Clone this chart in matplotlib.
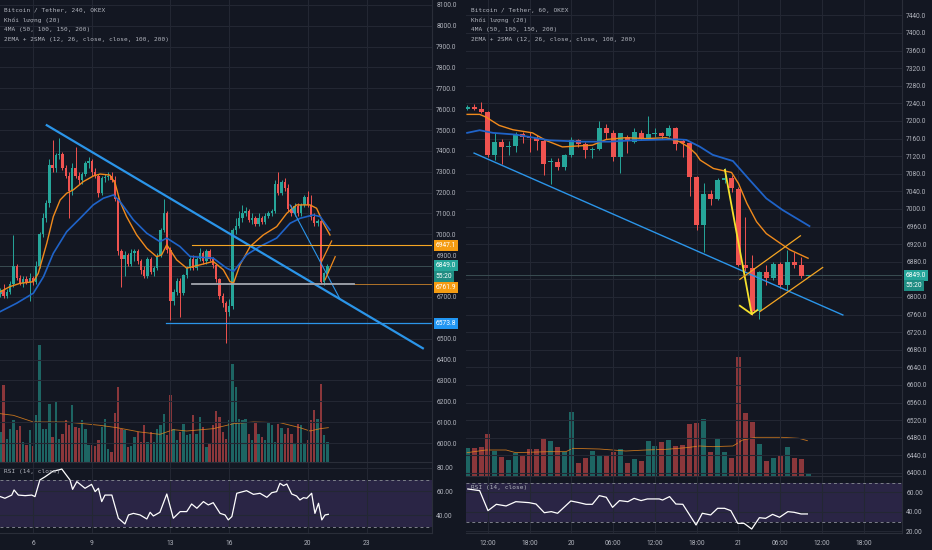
import numpy as np
import matplotlib
matplotlib.use('Agg')
import matplotlib.pyplot as plt
import matplotlib.transforms as mtransforms

plt.rcParams['font.family'] = ['Roboto', 'DejaVu Sans']

BG = '#131722'
GRID = '#232733'
TXT = '#b2b5be'
UP = '#26a69a'
DOWN = '#ef5350'
EMA_FAST = '#f08a1c'
EMA_SLOW = '#1f63c8'
TREND = '#2b95e9'

# ---------------- left chart: Bitcoin / Tether, 240 ----------------
l_open = [6715, 6735, 6705, 6725, 6760, 6850, 6790, 6765, 6785, 6770,
          6790, 6770, 6850, 7000, 7080, 7150, 7330, 7320, 7380, 7385,
          7320, 7280, 7210, 7320, 7280, 7260, 7290, 7340, 7350, 7300,
          7280, 7200, 7270, 7275, 7280, 7260, 7170, 6920, 6880, 6900,
          6860, 6910, 6920, 6870, 6830, 6800, 6880, 6820, 6840, 6895,
          7020, 7100, 6925, 6680, 6725, 6775, 6720, 6805, 6840, 6880,
          6840, 6880, 6910, 6870, 6920, 6880, 6855, 6785, 6705, 6670,
          6630, 6655, 7020, 7040, 7080, 7100, 7110, 7070, 7080, 7050,
          7080, 7060, 7090, 7100, 7110, 7240, 7200, 7250, 7220, 7120,
          7100, 7135, 7100, 7140, 7180, 7140, 7085, 7055, 7065, 6770,
          6815]
l_high = [6745, 6760, 6740, 6775, 6995, 6860, 6805, 6800, 6800, 6815,
          6800, 6870, 7010, 7100, 7165, 7360, 7450, 7390, 7460, 7395,
          7330, 7300, 7340, 7420, 7300, 7300, 7350, 7370, 7360, 7320,
          7290, 7280, 7290, 7300, 7300, 7280, 7180, 6930, 6920, 6910,
          6930, 6930, 6930, 6880, 6850, 6890, 6890, 6850, 6910, 7030,
          7170, 7110, 6940, 6740, 6790, 6790, 6810, 6850, 6890, 6900,
          6890, 6935, 6920, 6930, 6930, 6890, 6860, 6790, 6720, 6680,
          6690, 7030, 7080, 7110, 7140, 7130, 7120, 7100, 7090, 7100,
          7090, 7100, 7110, 7120, 7260, 7300, 7260, 7270, 7240, 7140,
          7150, 7150, 7150, 7190, 7210, 7190, 7100, 7075, 7070, 6820,
          6860]
l_low = [6700, 6695, 6695, 6715, 6750, 6780, 6755, 6750, 6760, 6680,
         6755, 6760, 6840, 6985, 7060, 7130, 7300, 7300, 7360, 7310,
         7270, 7080, 7190, 7270, 7240, 7240, 7280, 7320, 7280, 7270,
         7180, 7190, 7250, 7260, 7250, 7160, 6900, 6750, 6800, 6850,
         6850, 6870, 6860, 6810, 6790, 6790, 6810, 6800, 6830, 6890,
         7010, 6910, 6590, 6660, 6710, 6605, 6710, 6790, 6830, 6830,
         6830, 6870, 6860, 6860, 6870, 6840, 6770, 6690, 6650, 6480,
         6610, 6640, 7000, 7030, 7060, 7090, 7060, 7050, 7040, 7040,
         7050, 7050, 7080, 7090, 7100, 7190, 7190, 7210, 7110, 7090,
         7090, 7090, 7090, 7130, 7130, 7070, 7040, 7040, 6760, 6755,
         6805]
l_close = [6735, 6705, 6725, 6760, 6850, 6790, 6765, 6785, 6770, 6790,
           6770, 6850, 7000, 7080, 7150, 7330, 7320, 7380, 7385, 7320,
           7280, 7210, 7320, 7280, 7260, 7290, 7340, 7350, 7300, 7280,
           7200, 7270, 7275, 7280, 7260, 7170, 6920, 6880, 6900, 6860,
           6910, 6920, 6870, 6830, 6800, 6880, 6820, 6840, 6895, 7020,
           7100, 6925, 6680, 6725, 6775, 6720, 6805, 6840, 6880, 6840,
           6880, 6910, 6870, 6920, 6880, 6855, 6785, 6705, 6670, 6630,
           6655, 7020, 7040, 7080, 7100, 7110, 7070, 7080, 7050, 7080,
           7060, 7090, 7100, 7110, 7240, 7200, 7250, 7220, 7120, 7100,
           7135, 7100, 7140, 7180, 7140, 7085, 7055, 7065, 6770, 6815,
           6849]
l_vol = [90, 230, 70, 100, 125, 95, 107, 60, 50, 95,
         47, 140, 350, 100, 100, 175, 75, 180, 70, 85,
         125, 110, 170, 105, 103, 125, 100, 50, 50, 47,
         65, 105, 130, 40, 30, 147, 225, 100, 95, 45,
         47, 75, 90, 60, 110, 60, 90, 60, 100, 110,
         145, 80, 202, 100, 65, 90, 115, 80, 85, 140,
         85, 135, 105, 45, 55, 110, 153, 135, 90, 70,
         125, 295, 225, 130, 125, 130, 85, 65, 120, 85,
         75, 65, 117, 110, 60, 115, 103, 83, 103, 85,
         55, 115, 110, 55, 65, 125, 155, 130, 235, 80,
         60]

l_ema_fast_x = [0, 3.0, 6.0, 10.1, 11.6, 14.2, 16.2, 18.3, 20.3, 22.3, 25.4, 28.5, 30.5,
                33.5, 35.1, 36.6, 38.6, 41.7, 44.8, 47.8, 49.3, 50.9, 53.9, 57.0, 61.1,
                65.1, 68.2, 70.2, 71.3, 73.3, 76.4, 80.4, 84.5, 87.6, 90.6, 94.7, 96.7,
                98.8, 100.8]
l_ema_fast = [6725, 6750, 6765, 6773, 6813, 6957, 7085, 7165, 7197, 7213, 7253, 7280, 7289,
              7284, 7245, 7157, 7085, 6997, 6933, 6893, 6901, 6950, 6878, 6838, 6854,
              6870, 6830, 6774, 6766, 6854, 6942, 6997, 7037, 7101, 7141, 7141, 7125,
              7053, 6997]
l_ema_slow_x = [0, 5.0, 10.1, 13.2, 16.2, 20.3, 24.4, 28.4, 31.5, 34.6, 36.6, 40.7, 44.8,
                48.8, 50.9, 54.9, 58.0, 65.1, 69.2, 71.3, 75.3, 79.4, 84.5, 88.6, 91.7,
                95.7, 97.8, 100.8]
l_ema_slow = [6630, 6670, 6718, 6797, 6909, 7013, 7077, 7141, 7173, 7189, 7157, 7069, 7005,
              6965, 6982, 6942, 6894, 6886, 6838, 6822, 6902, 6942, 6982, 7053, 7077,
              7093, 7085, 7021]
l_vma_x = [0, 4.0, 10.1, 20.3, 30.5, 35.6, 42.7, 48.8, 52.9, 57.0, 65.1, 71.3, 77.4, 85.5,
           91.6, 94.7, 97.8, 100.3]
l_vma = [145, 140, 120, 120, 110, 103, 90, 83, 97, 93, 100, 115, 120, 118, 103, 93, 100, 103]
l_rsi_x = [0, 1.4, 3.5, 4.2, 5.5, 7.6, 9.6, 10.6, 12.1, 13.7,
           16.2, 17.7, 18.8, 19.8, 21.3, 22.1, 23.4, 25.9, 27.9, 29.0,
           30.0, 31.0, 32.0, 34.1, 36.1, 38.1, 39.2, 40.7, 42.7, 44.8,
           45.8, 46.8, 48.8, 50.9, 52.9, 55.0, 57.0, 58.5, 60.1, 62.1,
           63.6, 65.1, 67.2, 68.7, 69.7, 70.8, 72.3, 75.3, 77.4, 79.4,
           81.5, 83.0, 84.5, 85.5, 86.6, 87.6, 89.1, 90.6, 91.6, 92.7,
           93.7, 95.2, 96.2, 97.3, 98.3, 99.3, 100.3]
l_rsi = [55.7, 54.3, 57, 61.3, 57, 56.5, 57, 55.7, 69.7, 72.4,
         77.2, 78, 78.9, 75.2, 69.7, 61.8, 68.3, 62.7, 66, 59.9,
         62.7, 51.5, 57, 57, 37.5, 32.7, 40.3, 41.6, 40.3, 36.9,
         42.5, 39.4, 42.5, 57.9, 37.5, 43.1, 43.1, 49.5, 45.9, 51.5,
         48.7, 50.6, 41.6, 40.3, 36.1, 38.9, 58.5, 60.7, 57.6, 58.5,
         55.1, 59, 59.9, 66.9, 64.9, 66.3, 57.9, 56.2, 52.9, 54.8,
         54.3, 58.5, 41.6, 50.1, 36.1, 40.3, 40.8]

l_trend_x, l_trend_y = [14.2, 129.2], [7523, 6454]
l_trend2_x, l_trend2_y = [88.6, 103.9], [7141, 6689]
l_chan1_x, l_chan1_y = [98.3, 101.3], [6872, 6968]
l_chan2_x, l_chan2_y = [99.3, 102.4], [6782, 6893]
l_level_hi, l_level_lo, l_level_sup = 6947.1, 6761.9, 6573.8
l_level_hi_from, l_level_lo_span, l_level_sup_from = 58.6, (58.6, 108.2), 50.7
l_last = 6849.0
l_day_pos = [10, 28, 52, 70, 94, 112]
l_day_lab = ['6', '9', '13', '16', '20', '23']
l_hidden_ticks = [6600, 6800]   # covered by the price tags

# ---------------- right chart: Bitcoin / Tether, 60 ----------------
r_open = [7228, 7232, 7228, 7220, 7122, 7153, 7141, 7142, 7170, 7164,
          7162, 7155, 7107, 7107, 7096, 7122, 7157, 7147, 7134, 7136,
          7183, 7173, 7119, 7163, 7153, 7173, 7160, 7170, 7172, 7166,
          7183, 7155, 7150, 7073, 6963, 7035, 7022, 7066, 7070, 7045,
          6873, 6865, 6767, 6857, 6842, 6875, 6827, 6879, 6873, 6848]
r_high = [7236, 7238, 7244, 7222, 7173, 7160, 7155, 7175, 7175, 7175,
          7168, 7158, 7115, 7115, 7126, 7164, 7160, 7153, 7141, 7200,
          7192, 7179, 7172, 7168, 7183, 7179, 7211, 7183, 7176, 7191,
          7187, 7160, 7152, 7075, 7058, 7043, 7070, 7092, 7077, 7050,
          6982, 6895, 6860, 6872, 6880, 6880, 6907, 6903, 6891, 6850]
r_low = [7224, 7226, 7218, 7118, 7111, 7103, 7122, 7130, 7149, 7130,
         7134, 7077, 7056, 7088, 7088, 7119, 7141, 7115, 7115, 7134,
         7160, 7108, 7081, 7128, 7149, 7156, 7160, 7164, 7160, 7164,
         7134, 7119, 7030, 6952, 6903, 7009, 7020, 7060, 7039, 6870,
         6860, 6759, 6749, 6827, 6838, 6820, 6816, 6865, 6842, 6847]
r_close = [7232, 7228, 7220, 7122, 7153, 7141, 7144, 7170, 7164, 7162,
           7155, 7102, 7110, 7096, 7122, 7157, 7147, 7134, 7137, 7183,
           7172, 7119, 7172, 7155, 7175, 7160, 7171, 7172, 7166, 7183,
           7148, 7150, 7072, 6963, 7035, 7022, 7066, 7070, 7047, 6873,
           6865, 6767, 6857, 6842, 6875, 6827, 6879, 6873, 6848, 6849]
r_vol = [83, 83, 86, 125, 75, 56, 48, 68, 63, 80,
         80, 111, 105, 86, 73, 193, 38, 53, 75, 60,
         60, 71, 80, 40, 51, 45, 105, 90, 102, 108,
         90, 94, 155, 160, 170, 71, 111, 71, 53, 358,
         190, 161, 96, 46, 53, 63, 88, 53, 51, 5]

r_ema_fast_x = [0, 1.8, 2.7, 4.6, 6.6, 9.4, 11.3, 13.7, 15.7, 18.0, 20.0, 22.8, 25.7, 28.6,
                30.5, 31.8, 32.9, 33.5, 35.4, 38.0, 39.0, 40.2, 41.6, 43.0, 45.0, 46.4, 49.0]
r_ema_fast = [7215, 7215, 7209, 7190, 7180, 7173, 7156, 7141, 7143, 7145, 7158, 7162, 7160, 7162,
              7153, 7141, 7125, 7111, 7092, 7083, 7058, 7013, 6971, 6944, 6922, 6907, 6888]
r_ema_slow_x = [0, 1.8, 3.7, 7.0, 11.8, 16.6, 20.4, 23.8, 28.6, 30.5, 31.5, 33.4, 35.3, 38.2,
                40.6, 43.0, 45.3, 49.2]
r_ema_slow = [7173, 7179, 7173, 7169, 7156, 7153, 7153, 7156, 7158, 7158, 7157, 7142, 7123, 7109,
              7066, 7024, 6998, 6961]
r_vma_x = [0, 2.7, 5.6, 7.0, 11.8, 14.2, 15.2, 19.0, 22.8, 25.7, 28.6, 31.5, 33.4, 35.3, 38.2,
           39.6, 41.5, 45.3, 47.7, 48.9]
r_vma = [70, 78, 78, 70, 73, 73, 83, 81, 75, 78, 80, 85, 90, 88, 90, 108, 116, 116, 113, 106]
r_rsi_x = [0.1, 1.8, 3.0, 4.2, 5.6, 7.0, 8.9, 9.9, 11.1, 12.1,
           13.0, 14.9, 15.9, 17.1, 18.0, 19.0, 20.0, 20.9, 21.9, 23.1,
           24.0, 25.0, 25.9, 27.6, 28.1, 29.1, 30.0, 31.0, 32.9, 33.8,
           35.0, 36.0, 37.0, 37.9, 38.9, 39.8, 40.9, 42.0, 42.9, 43.9,
           44.9, 46.1, 47.0, 48.0, 48.9]
r_rsi = [63.4, 61.7, 41.2, 47.7, 46, 50.4, 49.4, 48, 39.1, 40.2,
         38.5, 51.1, 49.7, 47.7, 47.7, 56.6, 54.9, 44.6, 51.5, 50.4,
         53.8, 51.5, 53.2, 53.2, 52.1, 55.6, 48, 47.7, 26.5, 38.5,
         36.8, 43.6, 43.6, 41.2, 28.2, 28.2, 22.4, 34, 33.3, 37.4,
         34.4, 40.2, 39.5, 37.8, 37.8]

r_trend_x, r_trend_y = [1.0, 54.0], [7127, 6759]
r_drop_x, r_drop_y = [37.05, 40.9], [7089, 6761]
r_vee_x, r_vee_y = [39.2, 40.9, 41.7], [6780, 6761, 6770]
r_chan_up_x, r_chan_up_y = [39.2, 47.9], [6840, 6939]
r_chan_lo_x, r_chan_lo_y = [42.1, 51.1], [6767, 6867]
r_last = 6849.0
r_hour_pos = [3, 9, 15, 21, 27, 33, 39, 45, 51, 57]
r_hour_lab = ['12:00', '18:00', '20', '06:00', '12:00', '18:00', '21', '06:00', '12:00', '18:00']
r_hidden_ticks = [6840]

legend_lines = ['Khối lượng (20)', '4MA (50, 100, 150, 200)',
                '2EMA + 2SMA (12, 26, close, close, 100, 200)']

W, H = 932, 550
fig = plt.figure(figsize=(9.32, 5.5), dpi=100, facecolor=BG)


def box(x0, y0, x1, y1):
    return [x0 / W, 1 - y1 / H, (x1 - x0) / W, (y1 - y0) / H]


def clean(ax):
    ax.set_facecolor('none')
    for s in ax.spines.values():
        s.set_visible(False)
    ax.tick_params(length=0, colors=TXT, labelsize=4.8)


def candles(ax, o, h, l, c, width, min_body):
    o, h, l, c = map(np.asarray, (o, h, l, c))
    x = np.arange(len(o))
    cols = np.where(c >= o, UP, DOWN)
    ax.vlines(x, l, h, colors=cols, lw=0.7, zorder=3)
    body = np.maximum(np.abs(c - o), min_body)
    ax.bar(x, body, width, bottom=np.minimum(o, c), color=cols, lw=0, zorder=4)
    return cols


def tag(ax, y, text, fc, dy=0):
    tr = mtransforms.blended_transform_factory(ax.transAxes, ax.transData)
    ax.annotate(text, xy=(1, y), xycoords=tr, xytext=(2.6, dy * 0.72), textcoords='offset points',
                ha='left', va='center', fontsize=4.8, color='white', annotation_clip=False,
                bbox=dict(boxstyle='square,pad=0.3', fc=fc, ec='none'), zorder=10)


def panel(x0, x1, vol_top, price_bot, rsi_bot, o, h, l, c, vol, vol_max, ylim, yticks, hidden,
          xlim, xpos, xlab, width, min_body, rsi_lim, rsi_ticks):
    axv = fig.add_axes(box(x0, vol_top, x1, price_bot))
    axp = fig.add_axes(box(x0, 0, x1, price_bot), sharex=axv)
    axr = fig.add_axes(box(x0, price_bot, x1, rsi_bot), sharex=axv)
    for a in (axv, axp, axr):
        clean(a)
    cols = candles(axp, o, h, l, c, width, min_body)
    axv.bar(np.arange(len(vol)), vol, width, color=cols, alpha=0.55, lw=0)
    axv.set_ylim(0, vol_max)
    axv.set_yticks([])
    axv.tick_params(labelbottom=False)
    axp.set_ylim(*ylim)
    axp.set_yticks(yticks)
    axp.yaxis.tick_right()
    axp.yaxis.set_major_formatter(matplotlib.ticker.FuncFormatter(
        lambda v, p: '' if round(v) in hidden else '%.1f' % v))
    axp.tick_params(axis='y', pad=3)
    axp.grid(True, color=GRID, lw=0.8, zorder=0)
    axp.set_xlim(*xlim)
    axp.set_xticks(xpos)
    axp.tick_params(labelbottom=False)
    axr.axhspan(30, 70, color='#7e57c2', alpha=0.22, lw=0)
    for lv in (30, 70):
        axr.axhline(lv, color='#7d808a', lw=0.7, ls=(0, (3, 3)))
    axr.set_ylim(*rsi_lim)
    axr.set_yticks(rsi_ticks)
    axr.yaxis.tick_right()
    axr.yaxis.set_major_formatter(matplotlib.ticker.FormatStrFormatter('%.2f'))
    axr.tick_params(axis='y', pad=3)
    axr.grid(True, color=GRID, lw=0.8)
    axr.set_xticks(xpos)
    axr.set_xticklabels(xlab)
    axr.tick_params(axis='x', pad=5, labelsize=4.8)
    for side in ('top', 'bottom', 'right'):
        axr.spines[side].set_visible(True)
        axr.spines[side].set_color('#2a2e39')
    axp.spines['right'].set_visible(True)
    axp.spines['right'].set_color('#2a2e39')
    return axp, axv, axr


mono = ['DejaVu Sans Mono', 'DejaVu Sans', 'Noto Sans']

# ---------- left ----------
axp, axv, axr = panel(0, 432, 330, 462, 533, l_open, l_high, l_low, l_close, l_vol, 396,
                      (5909, 8123), np.arange(6000, 8101, 100), l_hidden_ticks, (-0.1, 132),
                      l_day_pos, l_day_lab, 0.72, 3, (25.1, 84.8), [40, 60, 80])
axp.plot(l_ema_fast_x, l_ema_fast, color=EMA_FAST, lw=1.0, zorder=5)
axp.plot(l_ema_slow_x, l_ema_slow, color=EMA_SLOW, lw=1.2, zorder=5)
axv.plot(l_vma_x, l_vma, color=EMA_FAST, lw=0.6, alpha=0.8)
axr.plot(l_rsi_x, l_rsi, color='white', lw=0.9)
axp.axhline(l_last, color='#3a4d52', lw=0.7, zorder=2)
axp.plot(l_trend_x, l_trend_y, color=TREND, lw=1.6, zorder=6)
axp.plot(l_trend2_x, l_trend2_y, color=TREND, lw=0.8, zorder=6)
axp.plot([l_level_hi_from, 132], [l_level_hi] * 2, color='#f5a623', lw=0.8, zorder=6)
axp.plot([l_level_lo_span[1], 132], [l_level_lo] * 2, color='#c9822a', lw=0.6, zorder=6)
axp.plot(list(l_level_lo_span), [l_level_lo] * 2, color='#a3a6ae', lw=1.3, zorder=6)
axp.plot([l_level_sup_from, 132], [l_level_sup] * 2, color=TREND, lw=0.9, zorder=6)
axp.plot(l_chan1_x, l_chan1_y, color=EMA_FAST, lw=0.9, zorder=6)
axp.plot(l_chan2_x, l_chan2_y, color=EMA_FAST, lw=0.9, zorder=6)
tag(axp, l_level_hi, '6947.1', '#f59c12')
tag(axp, l_last, '6849.0', UP)
tag(axp, l_last, '55:20', '#1f8c82', dy=-11)
tag(axp, l_level_lo, '6761.9', '#f59c12', dy=-3.3)
tag(axp, l_level_sup, '6573.8', '#2196f3')
fig.text(4 / W, 1 - 10.5 / H, 'Bitcoin / Tether, 240, OKEX', family=mono, fontsize=4.4,
         color=TXT, va='center')
for n, s in enumerate(legend_lines):
    fig.text(4 / W, 1 - (20 + 9.7 * n) / H, s, family=mono, fontsize=4.4, color=TXT, va='center')
fig.text(4 / W, 1 - 472 / H, 'RSI (14, close)', family=mono, fontsize=4.4, color=TXT, va='center')

# ---------- right ----------
axp, axv, axr = panel(466, 902, 340, 476, 533, r_open, r_high, r_low, r_close, r_vol, 408,
                      (6393, 7475), np.arange(6400, 7441, 40), r_hidden_ticks, (-0.16, 62.5),
                      r_hour_pos, r_hour_lab, 0.72, 1.5, (18.3, 76.7), [20, 40, 60])
axp.plot(r_ema_fast_x, r_ema_fast, color=EMA_FAST, lw=1.0, zorder=5)
axp.plot(r_ema_slow_x, r_ema_slow, color=EMA_SLOW, lw=1.3, zorder=5)
axv.plot(r_vma_x, r_vma, color=EMA_FAST, lw=0.6, alpha=0.8)
axr.plot(r_rsi_x, r_rsi, color='white', lw=0.9)
axp.axhline(r_last, color='#3a4d52', lw=0.7, zorder=2)
axp.plot(r_trend_x, r_trend_y, color=TREND, lw=1.0, zorder=6)
axp.plot(r_drop_x, r_drop_y, color='#f5e12e', lw=1.3, zorder=6)
axp.plot(r_vee_x, r_vee_y, color='#f5e12e', lw=1.3, zorder=6)
axp.plot(r_chan_up_x, r_chan_up_y, color='#f5a623', lw=0.9, zorder=6)
axp.plot(r_chan_lo_x, r_chan_lo_y, color='#f5a623', lw=0.9, zorder=6)
tag(axp, r_last, '6849.0', UP)
tag(axp, r_last, '55:20', '#1f8c82', dy=-10.6)
fig.text(471 / W, 1 - 10.5 / H, 'Bitcoin / Tether, 60, OKEX', family=mono, fontsize=4.4,
         color=TXT, va='center')
for n, s in enumerate(legend_lines):
    fig.text(471 / W, 1 - (20 + 9.7 * n) / H, s, family=mono, fontsize=4.4, color=TXT, va='center')
fig.text(471 / W, 1 - 487 / H, 'RSI (14, close)', family=mono, fontsize=4.4, color=TXT, va='center')

fig.savefig('out.png', dpi=100, facecolor=BG)
